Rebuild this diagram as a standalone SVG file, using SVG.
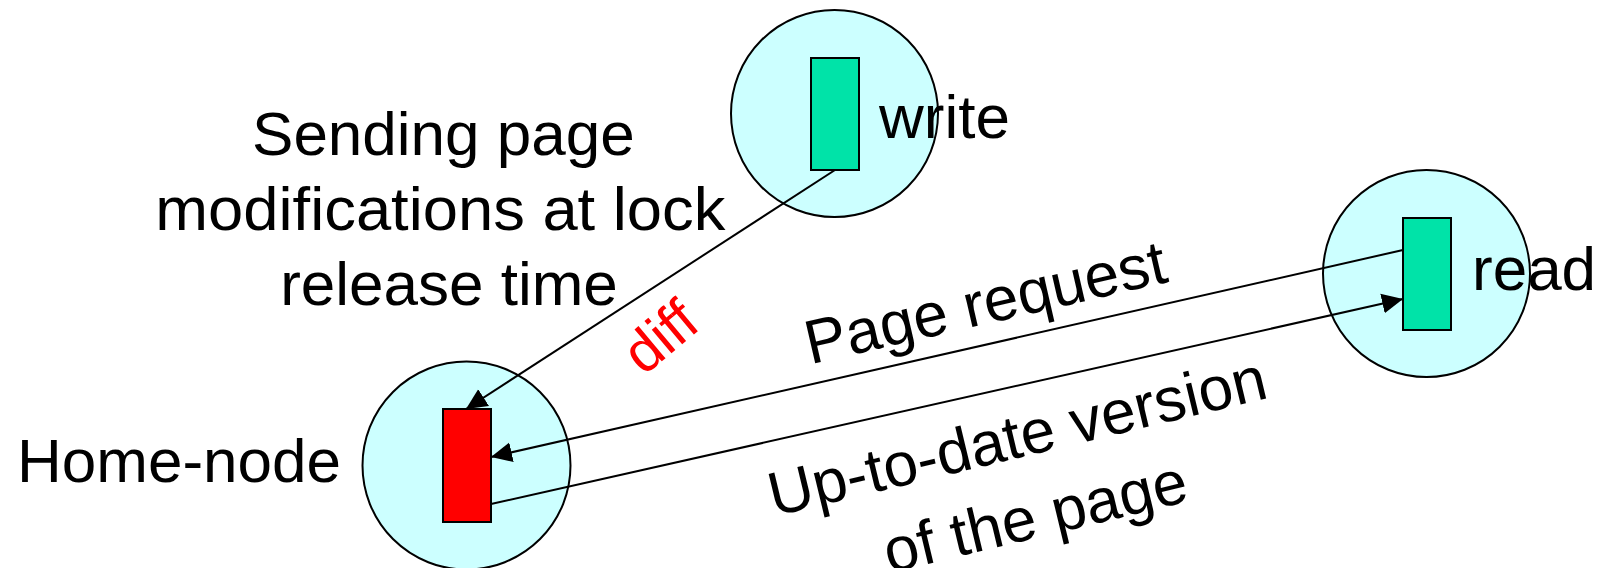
<svg xmlns="http://www.w3.org/2000/svg" width="1601" height="568" viewBox="0 0 1601 568">
  <style>
    .node-circle { fill: #CCFFFF; stroke: #000; stroke-width: 2; }
    .page { stroke: #000; stroke-width: 2; }
    .page-copy { fill: #00E3A8; }
    .page-home { fill: #FF0000; }
    .label { font-family: "Liberation Sans", Arial, sans-serif; font-size: 62px; fill: #000; }
    .diff { font-family: "Liberation Sans", Arial, sans-serif; font-size: 58px; fill: #FF0000; }
    .link { stroke: #000; stroke-width: 2; fill: none; marker-end: url(#arrow); }
  </style>
  <defs>
    <marker id="arrow" markerUnits="userSpaceOnUse" markerWidth="22" markerHeight="22" refX="21" refY="11" orient="auto">
      <path d="M0,1 L21,11 L0,21 Z" fill="#000"/>
    </marker>
  </defs>

  <rect width="1601" height="568" fill="#fff"/>

  <!-- writer node -->
  <g id="node-write">
    <circle class="node-circle" cx="834.5" cy="113.5" r="103.5"/>
    <rect class="page page-copy" x="811" y="58" width="48" height="112"/>
    <text class="label" x="879" y="138">write</text>
  </g>

  <!-- reader node -->
  <g id="node-read">
    <circle class="node-circle" cx="1426.5" cy="273.5" r="103.5"/>
    <rect class="page page-copy" x="1403" y="218" width="48" height="112"/>
    <text class="label" x="1472" y="290">read</text>
  </g>

  <!-- home node holding the master copy -->
  <g id="node-home">
    <circle class="node-circle" cx="466.5" cy="465.5" r="104"/>
    <rect class="page page-home" x="443" y="409" width="48" height="113"/>
    <text class="label" x="17" y="482">Home-node</text>
  </g>

  <!-- connectors -->
  <g id="connectors">
    <line class="link" x1="835" y1="170" x2="466" y2="409"/>
    <line class="link" x1="1403" y1="250" x2="491" y2="457"/>
    <line class="link" x1="491" y1="504" x2="1403" y2="299"/>
  </g>

  <!-- connector labels -->
  <g id="labels">
    <text class="label" text-anchor="middle" font-size="63">
      <tspan x="452" y="155">Sending page</tspan>
      <tspan x="449" y="230" textLength="570" lengthAdjust="spacingAndGlyphs">modifications at lock</tspan>
      <tspan x="449" y="305">release time</tspan>
    </text>
    <text class="diff" text-anchor="middle" transform="translate(673 352) rotate(-40)">diff</text>
    <text class="label" text-anchor="middle" transform="translate(990 323) rotate(-13)">Page request</text>
    <text class="label" text-anchor="middle" transform="translate(1022 457) rotate(-13.5)">Up-to-date version</text>
    <text class="label" text-anchor="middle" transform="translate(1040 537) rotate(-13.5)">of the page</text>
  </g>
</svg>
